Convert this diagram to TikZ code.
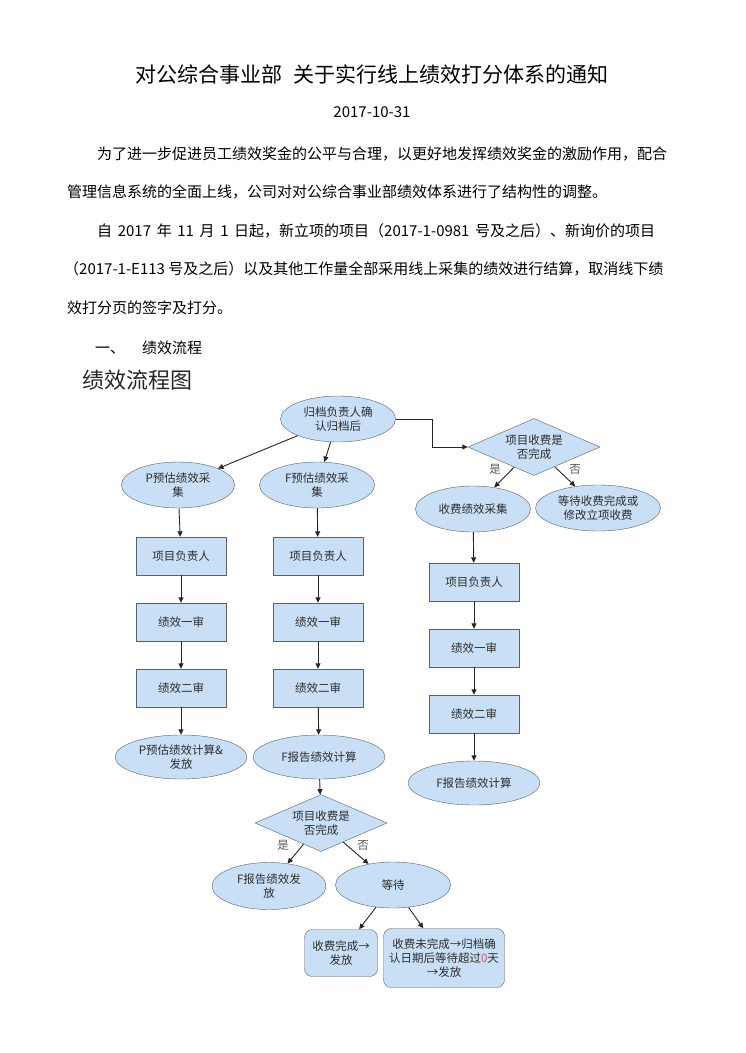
\documentclass[tikz,border=0pt]{standalone}
\usepackage{fontspec}
\newfontfamily\cjk{Noto Sans CJK SC}
\usetikzlibrary{shapes.geometric,arrows.meta}

\definecolor{flowblue}{HTML}{C8DFF6}
\definecolor{edgegray}{HTML}{56626E}
\definecolor{inkgray}{HTML}{2E2E2E}
\definecolor{zeropink}{HTML}{E2506A}

\newcommand{\flowfont}{\cjk\fontsize{11.5}{14}\selectfont}
\newcommand{\bodyfont}{\cjk\fontsize{15}{18}\selectfont}

\tikzset{
  flowell/.style = {ellipse,
      draw = edgegray,
      fill = flowblue,
      text = inkgray,
      font = \flowfont,
      align = center,
      inner sep = 0pt,
      minimum width = 115pt,
      minimum height = 46pt},
  flowbox/.style = {rectangle,
      draw = edgegray,
      fill = flowblue,
      text = inkgray,
      font = \flowfont,
      align = center,
      minimum width = 90pt,
      minimum height = 38pt},
  flowdia/.style = {diamond,
      draw = edgegray,
      fill = flowblue,
      text = inkgray,
      font = \flowfont,
      align = center,
      inner sep = 0pt,
      aspect = 2.3,
      minimum width = 132pt,
      minimum height = 57pt},
  flowround/.style = {flowbox,
      rounded corners = 8pt},
  flowarrow/.style = {draw = black!85,
      line width = 0.9pt,
      -{Triangle[length=5.5pt,width=5pt]}},
  branchlabel/.style = {text = inkgray!80,
      font = \flowfont},
  bodyline/.style = {anchor = base west,
      inner sep = 0pt,
      text = black,
      font = \bodyfont}
}

\begin{document}
\begin{tikzpicture}[x=1pt,y=-1pt]
\useasboundingbox[fill=white] (0,0) rectangle (745,1053);

% heading and text
\node[anchor = base, inner sep = 0pt, font = \cjk\fontsize{21}{24}\selectfont]
  (title) at (372,82) {对公综合事业部\hspace{6pt} 关于实行线上绩效打分体系的通知};
\node[anchor = base, inner sep = 0pt, font = \bodyfont] (date) at (372,117) {2017-10-31};
\node[bodyline] (lineA) at (97,159) {为了进一步促进员工绩效奖金的公平与合理，以更好地发挥绩效奖金的激励作用，配合};
\node[bodyline] (lineB) at (67,197) {管理信息系统的全面上线，公司对对公综合事业部绩效体系进行了结构性的调整。};
\node[bodyline] (lineC) at (97,236) {\makebox[558pt][s]{自 2017 年 11 月 1 日起，新立项的项目（2017-1-0981 号及之后）、新询价的项目}};
\node[bodyline] (lineD) at (64,274) {（2017-1-E113 号及之后）以及其他工作量全部采用线上采集的绩效进行结算，取消线下绩};
\node[bodyline] (lineE) at (67,313) {效打分页的签字及打分。};
\node[bodyline] (secno) at (95,353) {一、};
\node[bodyline] (secname) at (142,353) {绩效流程};
\node[bodyline, font = \cjk\fontsize{22}{26}\selectfont, text = black!85] (charttitle) at (82,388) {绩效流程图};

% top of chart
\node[flowell] (archive) at (338,419) {归档负责人确\\认归档后};
\node[flowell, minimum width = 113pt] (pcollect) at (178,485) {P预估绩效采\\集};
\node[flowell] (fcollect) at (317,485) {F预估绩效采\\集};

% left column
\node[flowbox] (pleader) at (181,556) {项目负责人};
\node[flowbox] (pfirst) at (181,622) {绩效一审};
\node[flowbox] (psecond) at (181,688) {绩效二审};
\node[flowell, minimum width = 132pt, minimum height = 44pt] (pcalc) at (181,757) {P预估绩效计算\&\\发放};

% middle column
\node[flowbox] (fleader) at (318,556) {项目负责人};
\node[flowbox] (ffirst) at (318,622) {绩效一审};
\node[flowbox] (fsecond) at (318,688) {绩效二审};
\node[flowell, minimum width = 132pt, minimum height = 44pt] (fcalc) at (319,757) {F报告绩效计算};

% right column
\node[flowdia] (feecheck) at (534,447) {项目收费是\\否完成};
\node[flowell] (feecollect) at (473,509) {收费绩效采集};
\node[flowell, minimum width = 125pt] (feewait) at (598,508) {等待收费完成或\\修改立项收费};
\node[flowbox] (rleader) at (474,582) {项目负责人};
\node[flowbox] (rfirst) at (474,648) {绩效一审};
\node[flowbox] (rsecond) at (474,714) {绩效二审};
\node[flowell, minimum width = 132pt, minimum height = 44pt] (rcalc) at (474,783) {F报告绩效计算};

% bottom part
\node[flowdia] (paycheck) at (321,823) {项目收费是\\否完成};
\node[flowell, minimum width = 114pt, minimum height = 47pt] (fpay) at (269,886) {F报告绩效发\\放};
\node[flowell] (waiting) at (393,885) {等待};
\node[flowround, minimum width = 73pt, minimum height = 47pt, inner sep = 2pt] (paid) at (341,953) {收费完成→\\发放};
\node[flowround, minimum width = 121pt, minimum height = 59pt, inner sep = 2pt] (unpaid) at (444,958)
  {收费未完成→归档确\\认日期后等待超过\textcolor{zeropink}{0}天\\→发放};

% branch labels
\node[branchlabel] (yesA) at (495,469) {是};
\node[branchlabel] (noA) at (575,469) {否};
\node[branchlabel] (yesB) at (283,845) {是};
\node[branchlabel] (noB) at (363,845) {否};

% connectors
\draw[flowarrow] (archive) -- (pcollect);
\draw[flowarrow] (archive) -- (fcollect);
\draw[flowarrow] (archive.east) -- ++(37,0) |- (feecheck.west);
\draw[flowarrow] (feecheck) -- (feecollect);
\draw[flowarrow] (feecheck) -- (feewait);

\draw[flowarrow] (pcollect) -- (pleader);
\draw[flowarrow] (pleader) -- (pfirst);
\draw[flowarrow] (pfirst) -- (psecond);
\draw[flowarrow] (psecond) -- (pcalc);

\draw[flowarrow] (fcollect) -- (fleader);
\draw[flowarrow] (fleader) -- (ffirst);
\draw[flowarrow] (ffirst) -- (fsecond);
\draw[flowarrow] (fsecond) -- (fcalc);
\draw[flowarrow] (fcalc) -- (paycheck);

\draw[flowarrow] (feecollect) -- (rleader);
\draw[flowarrow] (rleader) -- (rfirst);
\draw[flowarrow] (rfirst) -- (rsecond);
\draw[flowarrow] (rsecond) -- (rcalc);

\draw[flowarrow] (paycheck) -- (fpay);
\draw[flowarrow] (paycheck) -- (waiting);
\draw[flowarrow] (waiting) -- (paid);
\draw[flowarrow] (waiting) -- (unpaid);

\end{tikzpicture}
\end{document}
